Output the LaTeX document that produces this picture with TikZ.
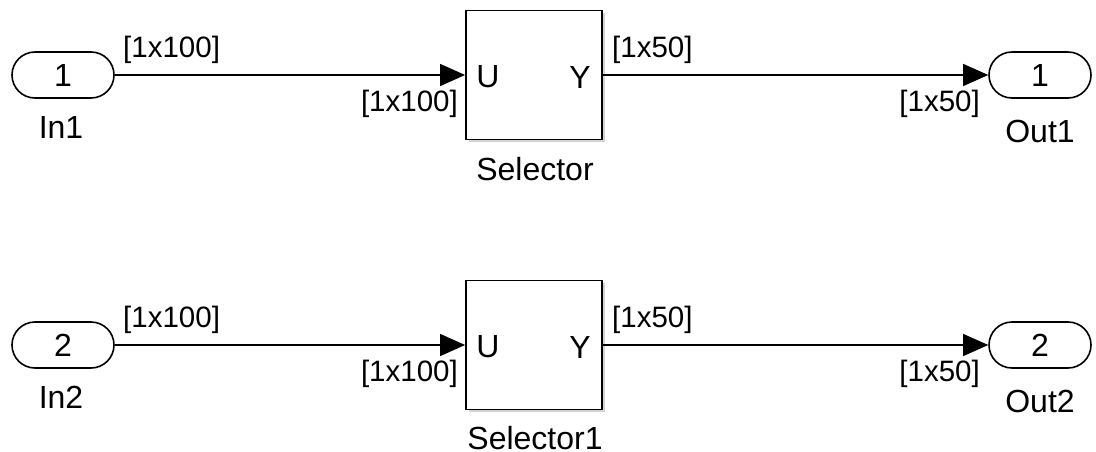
\documentclass[tikz,border=0pt]{standalone}
\usepackage{fontspec}
\setmainfont{Liberation Sans}
\usetikzlibrary{arrows.meta,shadows}
\begin{document}
\begin{tikzpicture}[x=1pt,y=-1pt,
  font=\fontsize{32}{38}\selectfont,
  port/.style={draw, line width=1.6pt, rounded corners=23pt, minimum width=102pt, minimum height=46pt, inner sep=0pt, fill=white},
  blk/.style={draw, line width=1.8pt, minimum width=136pt, minimum height=129pt, inner sep=0pt, fill=white,
    drop shadow={shadow xshift=2.5pt, shadow yshift=-2.5pt, opacity=0.35}},
  sig/.style={line width=1.3pt, -{Triangle[length=25pt,width=22pt]}},
  lbl/.style={inner sep=0pt},
  dim/.style={inner sep=0pt, font=\fontsize{29.5}{35}\selectfont}]
\useasboundingbox (0,0) rectangle (1096,452);
\foreach \r/\n/\s/\ly in {0/1//169,270/2/1/438}{
  \node[port] (in\n) at (63,75+\r) {\n};
  \node[lbl] (inl\n) at (61,127+\r) {In\n};
  \node[blk] (sel\n) at (534,75+\r) {};
  \node[lbl] (u\n) at (488,77+\r) {U};
  \node[lbl] (y\n) at (580,77+\r) {Y};
  \node[lbl] (sell\n) at (535,\ly) {Selector\s};
  \node[port] (out\n) at (1040,75+\r) {\n};
  \node[lbl] (outl\n) at (1040,131+\r) {Out\n};
  \draw[sig] (in\n) -- (sel\n);
  \draw[sig] (sel\n) -- (out\n);
  \node[dim, anchor=west] (a\n) at (123,50+\r) {[1x100]};
  \node[dim, anchor=east] (b\n) at (458,104+\r) {[1x100]};
  \node[dim, anchor=west] (c\n) at (612,50+\r) {[1x50]};
  \node[dim, anchor=east] (d\n) at (980,104+\r) {[1x50]};
}
\end{tikzpicture}
\end{document}
